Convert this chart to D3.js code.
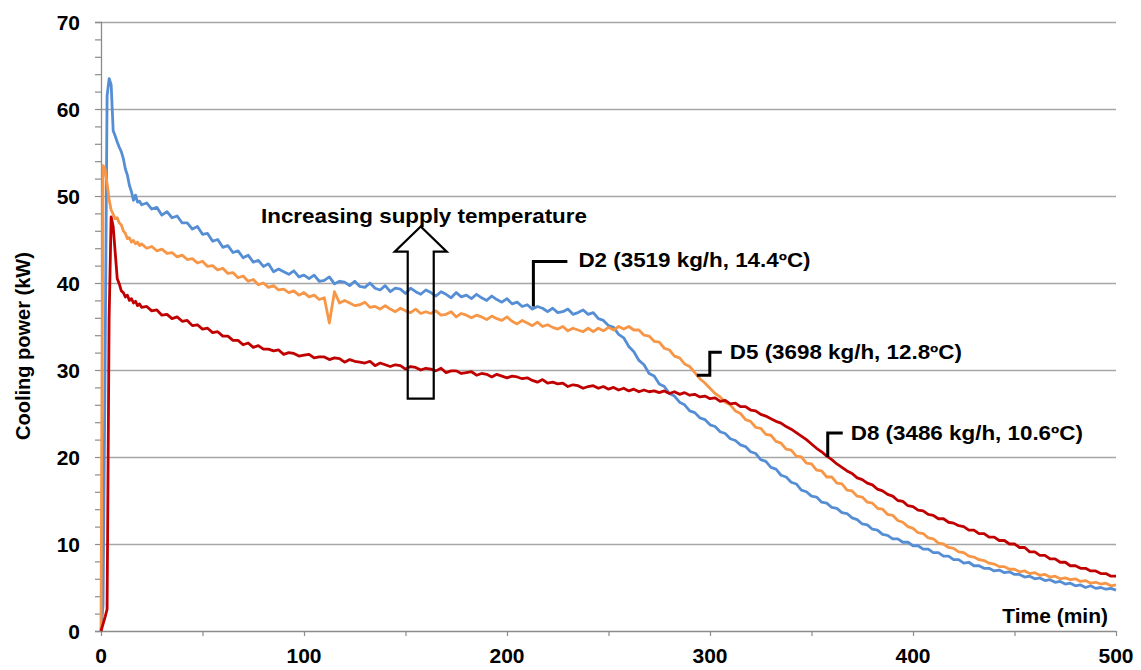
<!DOCTYPE html>
<html>
<head>
<meta charset="utf-8">
<script src="https://cdn.jsdelivr.net/npm/d3@7"></script>
<style>
  body { margin: 0; background: #ffffff; }
  svg { display: block; font-family: "Liberation Sans", Arial, sans-serif; }
</style>
</head>
<body>
<div id="chart"></div>
<script>
// time samples (min)
const time_min = [
  0, 1, 2, 3, 4, 5, 6, 7, 8, 9, 10, 11, 12, 13, 14, 15, 16, 17, 18, 19, 20,
  22.5, 25, 27.5, 30, 32.5, 35, 37.5, 40,
  42.5, 45, 47.5, 50, 52.5, 55, 57.5, 60,
  62.5, 65, 67.5, 70, 72.5, 75, 77.5, 80,
  82.5, 85, 87.5, 90, 92.5, 95, 97.5, 100,
  102.5, 105, 107.5, 110, 112.5, 115, 117.5, 120,
  122.5, 125, 127.5, 130, 132.5, 135, 137.5, 140,
  142.5, 145, 147.5, 150, 152.5, 155, 157.5, 160,
  162.5, 165, 167.5, 170, 172.5, 175, 177.5, 180,
  182.5, 185, 187.5, 190, 192.5, 195, 197.5, 200,
  202.5, 205, 207.5, 210, 212.5, 215, 217.5, 220,
  222.5, 225, 227.5, 230, 232.5, 235, 237.5, 240,
  242.5, 245, 247.5, 250, 252.5, 255, 257.5, 260,
  262.5, 265, 267.5, 270, 272.5, 275, 277.5, 280,
  282.5, 285, 287.5, 290, 292.5, 295, 297.5, 300,
  302.5, 305, 307.5, 310, 312.5, 315, 317.5, 320,
  322.5, 325, 327.5, 330, 332.5, 335, 337.5, 340,
  342.5, 345, 347.5, 350, 352.5, 355, 357.5, 360,
  362.5, 365, 367.5, 370, 372.5, 375, 377.5, 380,
  382.5, 385, 387.5, 390, 392.5, 395, 397.5, 400,
  402.5, 405, 407.5, 410, 412.5, 415, 417.5, 420,
  422.5, 425, 427.5, 430, 432.5, 435, 437.5, 440,
  442.5, 445, 447.5, 450, 452.5, 455, 457.5, 460,
  462.5, 465, 467.5, 470, 472.5, 475, 477.5, 480,
  482.5, 485, 487.5, 490, 492.5, 495, 497.5, 500
];

// cooling power (kW) per test
const d2_power = [
  0, 3, 30, 61.5, 63.5, 62.8, 57.5, 56.9, 56.2, 55.6, 55.1, 54.3, 53.1, 52.4, 51.2, 50.5, 49.5, 50.1, 49.3, 49.4, 49.0,
  49.2, 48.5, 48.7, 47.8, 48.2, 47.5, 47.7, 46.9,
  46.9, 46.2, 46.5, 45.6, 45.7, 44.8, 45.0, 44.1,
  44.3, 43.5, 43.7, 42.9, 43.2, 42.4, 42.6, 41.9,
  42.2, 41.3, 41.6, 41.3, 41.0, 41.4, 40.7, 40.9,
  40.5, 40.9, 40.2, 40.3, 40.7, 39.9, 40.2, 40.1,
  39.7, 40.2, 39.6, 39.5, 40.0, 39.4, 39.2, 39.7,
  39.0, 39.4, 39.3, 38.8, 39.4, 39.0, 38.7, 39.2,
  38.9, 38.5, 39.0, 38.7, 38.3, 38.9, 38.4, 38.6,
  38.2, 38.7, 38.3, 38.0, 38.5, 38.1, 37.8, 38.2,
  37.6, 37.8, 37.3, 37.5, 37.0, 37.3, 37.1, 36.7,
  37.1, 36.6, 36.7, 37.0, 36.4, 36.6, 36.9, 36.4,
  36.6, 35.9, 35.7, 35.1, 34.9, 34.1, 33.7, 32.7,
  32.1, 31.1, 30.6, 29.6, 29.3, 28.4, 28.1, 27.3,
  27.0, 26.3, 26.0, 25.3, 25.1, 24.5, 24.3, 23.7,
  23.5, 22.9, 22.7, 22.1, 21.9, 21.4, 21.2, 20.6,
  20.4, 19.7, 19.5, 18.8, 18.6, 17.9, 17.7, 17.1,
  16.9, 16.2, 16.0, 15.5, 15.4, 14.8, 14.7, 14.2,
  14.1, 13.6, 13.5, 13.0, 12.8, 12.3, 12.2, 11.7,
  11.6, 11.1, 11.0, 10.6, 10.6, 10.2, 10.2, 9.8,
  9.8, 9.4, 9.4, 9.0, 9.0, 8.6, 8.6, 8.2,
  8.2, 7.8, 7.9, 7.5, 7.5, 7.2, 7.2, 6.9,
  7.0, 6.7, 6.8, 6.5, 6.5, 6.2, 6.3, 6.0,
  6.1, 5.8, 5.9, 5.6, 5.7, 5.4, 5.5, 5.2,
  5.3, 5.0, 5.2, 4.9, 5.0, 4.8, 4.9, 4.7
];
const d5_power = [
  0, 53.5, 53.1, 51.4, 49.6, 48.4, 47.9, 47.4, 47.5, 46.9, 46.7, 46.0, 45.7, 45.1, 45.2, 44.7, 44.9, 44.5, 44.7, 44.3, 44.5,
  44.0, 44.2, 43.7, 43.9, 43.4, 43.5, 43.0, 43.2,
  42.7, 42.8, 42.3, 42.5, 41.9, 42.0, 41.5, 41.7,
  41.1, 41.2, 40.6, 40.8, 40.2, 40.4, 39.8, 40.0,
  39.5, 39.7, 39.2, 39.3, 38.9, 39.1, 38.6, 38.9,
  38.4, 38.6, 38.1, 38.3, 35.4, 39.0, 37.7, 38.0,
  37.7, 37.4, 37.5, 37.8, 37.2, 37.3, 37.0, 37.4,
  37.0, 36.7, 37.1, 36.8, 36.6, 37.0, 36.5, 36.7,
  36.5, 36.8, 36.3, 36.4, 36.7, 36.1, 36.5, 36.3,
  36.0, 36.3, 36.1, 35.8, 36.2, 35.9, 35.7, 36.1,
  35.6, 35.3, 35.7, 35.4, 35.1, 35.5, 35.0, 35.2,
  34.9, 34.7, 35.0, 34.5, 34.8, 34.6, 34.4, 34.8,
  34.4, 34.8, 34.5, 34.9, 34.6, 35.0, 34.7, 35.0,
  34.6, 34.6, 34.0, 33.9, 33.3, 33.2, 32.5, 32.3,
  31.6, 31.4, 30.7, 30.4, 29.7, 29.0, 28.5, 27.9,
  27.3, 26.9, 26.3, 26.0, 25.3, 25.0, 24.3, 24.1,
  23.4, 23.3, 22.6, 22.5, 21.8, 21.6, 20.9, 20.8,
  20.1, 20.0, 19.3, 19.2, 18.5, 18.4, 17.7, 17.7,
  17.0, 16.9, 16.2, 16.1, 15.5, 15.4, 14.8, 14.7,
  14.1, 14.0, 13.4, 13.3, 12.7, 12.5, 12.0, 11.8,
  11.3, 11.2, 10.7, 10.6, 10.1, 10.0, 9.6, 9.5,
  9.1, 9.0, 8.6, 8.5, 8.2, 8.1, 7.8, 7.7,
  7.4, 7.4, 7.1, 7.1, 6.8, 6.9, 6.6, 6.7,
  6.4, 6.5, 6.2, 6.3, 6.0, 6.1, 5.9, 6.0,
  5.7, 5.8, 5.5, 5.6, 5.4, 5.5, 5.2, 5.3
];
const d8_power = [
  0, 0.8, 1.6, 2.5, 36, 47.6, 46.5, 43.5, 40.5, 39.9, 39.1, 38.9, 38.4, 38.6, 38.0, 38.2, 37.7, 37.9, 37.4, 37.6, 37.2,
  37.3, 36.8, 36.9, 36.3, 36.4, 35.9, 36.1, 35.6,
  35.7, 35.1, 35.2, 34.7, 34.8, 34.3, 34.4, 33.9,
  33.9, 33.4, 33.4, 32.9, 33.1, 32.6, 32.8, 32.4,
  32.4, 32.2, 32.3, 31.8, 32.0, 31.9, 31.6, 31.7,
  31.8, 31.4, 31.5, 31.5, 31.2, 31.4, 31.3, 30.9,
  31.2, 31.0, 30.9, 30.8, 31.0, 30.5, 30.8, 30.6,
  30.4, 30.6, 30.5, 30.1, 30.4, 30.3, 30.0, 30.2,
  30.1, 29.9, 30.2, 29.7, 29.9, 29.9, 29.6, 29.7,
  29.8, 29.4, 29.6, 29.5, 29.2, 29.5, 29.3, 29.1,
  29.3, 29.2, 29.0, 29.1, 28.8, 28.6, 28.9, 28.5,
  28.6, 28.4, 28.5, 28.1, 28.3, 28.2, 27.9, 28.1,
  28.2, 27.9, 28.1, 27.8, 28.0, 27.7, 27.9, 27.6,
  27.8, 27.5, 27.7, 27.5, 27.6, 27.4, 27.6, 27.3,
  27.5, 27.2, 27.4, 27.1, 27.2, 26.9, 27.0, 26.7,
  26.8, 26.4, 26.5, 26.1, 26.2, 25.8, 25.8, 25.4,
  25.3, 24.9, 24.7, 24.4, 24.1, 23.9, 23.5, 23.2,
  22.8, 22.4, 22.0, 21.5, 21.0, 20.6, 20.1, 19.7,
  19.2, 18.8, 18.4, 18.1, 17.6, 17.4, 17.0, 16.8,
  16.3, 16.1, 15.7, 15.5, 15.0, 14.9, 14.4, 14.3,
  13.9, 13.8, 13.4, 13.3, 12.9, 12.9, 12.5, 12.4,
  12.1, 12.0, 11.6, 11.6, 11.2, 11.2, 10.8, 10.8,
  10.4, 10.4, 10.0, 10.0, 9.6, 9.6, 9.1, 9.1,
  8.7, 8.7, 8.3, 8.3, 7.9, 7.9, 7.5, 7.5,
  7.2, 7.2, 6.9, 6.9, 6.6, 6.6, 6.3, 6.3
];

const series_names = ["D2 (3519 kg/h, 14.4ºC)", "D5 (3698 kg/h, 12.8ºC)", "D8 (3486 kg/h, 10.6ºC)"];
const series_values = [d2_power, d5_power, d8_power];
const series_colors = ["#558ed5", "#f79646", "#c00000"];
// callout anchor on each curve: [time, power]
const callout_anchor = [[213, 37.3], [293.5, 29.4], [358, 20.0]];

const x_ticks = [0, 100, 200, 300, 400, 500];
const y_ticks = [0, 10, 20, 30, 40, 50, 60, 70];

const chart_width = 1141;
const chart_height = 670;

const x = d3.scaleLinear().domain([0, 500]).range([101, 1116]);
const y = d3.scaleLinear().domain([0, 70]).range([631, 22]);

const svg = d3.select("#chart").append("svg")
    .attr("width", chart_width)
    .attr("height", chart_height)
    .attr("viewBox", [0, 0, chart_width, chart_height]);

// gridlines
svg.append("g")
    .selectAll("line")
    .data(y_ticks.slice(1))
    .join("line")
    .attr("x1", x(0))
    .attr("x2", x(500))
    .attr("y1", d => Math.round(y(d)) + 0.5)
    .attr("y2", d => Math.round(y(d)) + 0.5)
    .attr("stroke", "#a6a6a6")
    .attr("stroke-width", 1.3);

// y axis with minor ticks every 2 kW
const y_axis = svg.append("g")
    .attr("transform", `translate(${x(0)},0)`)
    .call(d3.axisLeft(y).tickValues(d3.range(0, 71, 2)).tickSize(6).tickFormat(""));
y_axis.selectAll("line").attr("stroke", "#8c8c8c").attr("stroke-width", 1.2);
y_axis.select(".domain").attr("stroke", "#8c8c8c").attr("stroke-width", 1.3);

y_axis.selectAll(".major")
    .data(y_ticks)
    .join("text")
    .attr("x", -21)
    .attr("y", d => y(d))
    .attr("dy", "0.36em")
    .attr("text-anchor", "end")
    .attr("font-size", 21)
    .attr("font-weight", "bold")
    .attr("fill", "#000")
    .text(d => d);

// x axis
const x_axis = svg.append("g")
    .attr("transform", `translate(0,${y(0)})`)
    .call(d3.axisBottom(x).tickValues(d3.range(0, 501, 50)).tickSize(5).tickSizeOuter(0).tickFormat(""));
x_axis.selectAll("line").attr("stroke", "#8c8c8c").attr("stroke-width", 1.2);
x_axis.select(".domain").attr("stroke", "#8c8c8c").attr("stroke-width", 1.3);

x_axis.selectAll(".major")
    .data(x_ticks)
    .join("text")
    .attr("x", d => x(d))
    .attr("y", 32)
    .attr("text-anchor", "middle")
    .attr("font-size", 21)
    .attr("font-weight", "bold")
    .attr("fill", "#000")
    .text(d => d);

// axis titles
svg.append("text")
    .attr("transform", `translate(30,346) rotate(-90)`)
    .attr("text-anchor", "middle")
    .attr("font-size", 20)
    .attr("font-weight", "bold")
    .text("Cooling power (kW)");

svg.append("text")
    .attr("transform", `translate(1108,623) scale(1.05,1)`)
    .attr("text-anchor", "end")
    .attr("font-size", 20)
    .attr("font-weight", "bold")
    .text("Time (min)");

// lines
const line = d3.line()
    .x((d, i) => x(time_min[i]))
    .y(d => y(d));

svg.append("g")
    .selectAll("path")
    .data(series_values)
    .join("path")
    .attr("fill", "none")
    .attr("stroke", (d, i) => series_colors[i])
    .attr("stroke-width", 2.8)
    .attr("stroke-linejoin", "round")
    .attr("d", d => line(d));

// callouts
const callout_paths = [
    (px, py) => `M${px},${py}V${py - 45}H${px + 34}`,
    (px, py) => `M${px},${py}H${px + 13}V${py - 23}H${px + 25}`,
    (px, py) => `M${px},${py}V${py - 24}H${px + 15}`
];
const callout_text = [[45, -39], [33, -16], [23, -17]];

const callout = svg.append("g");
callout_anchor.forEach((a, i) => {
    const px = x(a[0]);
    const py = y(a[1]);
    callout.append("path")
        .attr("d", callout_paths[i](px, py))
        .attr("fill", "none")
        .attr("stroke", "#000")
        .attr("stroke-width", 3);
    callout.append("text")
        .attr("transform", `translate(${px + callout_text[i][0]},${py + callout_text[i][1]}) scale(1.12,1)`)
        .attr("font-size", 20)
        .attr("font-weight", "bold")
        .text(series_names[i]);
});

// increasing supply temperature arrow
const arrow_x = x(157.5);
const arrow_base = y(26.7);
const arrow_neck = y(43.6);
const arrow_tip = y(46.5);
svg.append("path")
    .attr("d", `M${arrow_x - 13},${arrow_base}H${arrow_x + 13}V${arrow_neck}H${arrow_x + 26}L${arrow_x},${arrow_tip}L${arrow_x - 26},${arrow_neck}H${arrow_x - 13}Z`)
    .attr("fill", "none")
    .attr("stroke", "#000")
    .attr("stroke-width", 2.2);

svg.append("text")
    .attr("transform", `translate(261,223) scale(1.12,1)`)
    .attr("font-size", 20)
    .attr("font-weight", "bold")
    .text("Increasing supply temperature");
</script>
</body>
</html>
